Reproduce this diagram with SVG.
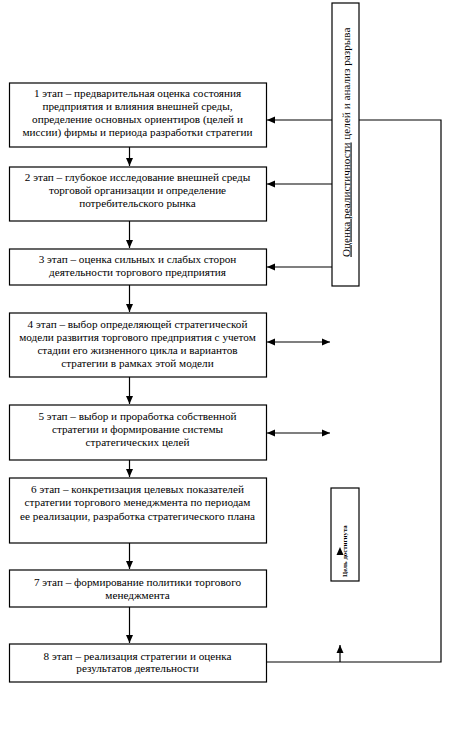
<svg xmlns="http://www.w3.org/2000/svg" width="461" height="755" viewBox="0 0 461 755">
<style>
.box{fill:#fff;stroke:#000;stroke-width:1.2}
.t{font-family:'Liberation Serif','DejaVu Serif',serif;font-size:11.2px;text-anchor:middle;fill:#000}
.c{fill:none;stroke:#000;stroke-width:1.2}
</style>
<defs>
<marker id="ah" viewBox="0 0 8 8" refX="8" refY="4" markerWidth="8" markerHeight="8" markerUnits="userSpaceOnUse" orient="auto-start-reverse">
<path d="M0,0.5 L8,4 L0,7.5 Z" fill="#000"/>
</marker>
</defs>
<rect width="461" height="755" fill="#fff"/>
<g id="connectors">
<line class="c" x1="129.5" y1="147" x2="129.5" y2="166" marker-end="url(#ah)"/>
<line class="c" x1="129.5" y1="221" x2="129.5" y2="248" marker-end="url(#ah)"/>
<line class="c" x1="129.5" y1="285" x2="129.5" y2="312" marker-end="url(#ah)"/>
<line class="c" x1="129.5" y1="377" x2="129.5" y2="404" marker-end="url(#ah)"/>
<line class="c" x1="129.5" y1="460" x2="129.5" y2="477" marker-end="url(#ah)"/>
<line class="c" x1="129.5" y1="543" x2="129.5" y2="569" marker-end="url(#ah)"/>
<line class="c" x1="129.5" y1="607" x2="129.5" y2="643" marker-end="url(#ah)"/>
<polyline class="c" points="266,662 441,662 441,120 267,120" marker-end="url(#ah)"/>
<line class="c" x1="340" y1="662" x2="340" y2="645" marker-end="url(#ah)"/>
<line class="c" x1="332" y1="184" x2="267" y2="184" marker-end="url(#ah)"/>
<line class="c" x1="332" y1="267" x2="267" y2="267" marker-end="url(#ah)"/>
<line class="c" x1="267" y1="342" x2="330" y2="342" marker-start="url(#ah)" marker-end="url(#ah)"/>
<line class="c" x1="267" y1="433" x2="330" y2="433" marker-start="url(#ah)" marker-end="url(#ah)"/>
</g>
<g id="gap">
<rect class="box" x="332" y="3" width="27" height="283"/>
<text class="t" style="font-size:11.2px;text-anchor:start" transform="translate(349.5,257) rotate(-90)"><tspan text-decoration="underline">Оценка реалистичности</tspan> целей и анализ разрыва</text>
</g>
<g id="goal">
<rect class="box" x="331" y="488" width="28" height="93"/>
<text class="t" style="font-size:6.8px;font-weight:bold;text-anchor:start" transform="translate(347,577) rotate(-90)">Цель достигнута</text>
<path d="M336.5,555 L340,547 L343.5,555 Z" fill="#000"/>
</g>
<g id="s1">
<rect class="box" x="9.5" y="83" width="257" height="64"/>
<text class="t" x="137.5" y="97">1 этап – предварительная оценка состояния</text>
<text class="t" x="137.5" y="110">предприятия и влияния внешней среды,</text>
<text class="t" x="137.5" y="123">определение основных ориентиров (целей и</text>
<text class="t" x="137.5" y="136">миссии) фирмы и периода разработки стратегии</text>
</g>
<g id="s2">
<rect class="box" x="9.5" y="167" width="257" height="54"/>
<text class="t" x="137.5" y="181">2 этап – глубокое исследование внешней среды</text>
<text class="t" x="137.5" y="194">торговой организации и определение</text>
<text class="t" x="137.5" y="207">потребительского рынка</text>
</g>
<g id="s3">
<rect class="box" x="9.5" y="249" width="257" height="36"/>
<text class="t" x="137.5" y="262.5">3 этап – оценка сильных и слабых сторон</text>
<text class="t" x="137.5" y="276">деятельности торгового предприятия</text>
</g>
<g id="s4">
<rect class="box" x="9.5" y="313" width="257" height="64"/>
<text class="t" x="137.5" y="327.5">4 этап – выбор определяющей стратегической</text>
<text class="t" x="137.5" y="340.5">модели развития торгового предприятия с учетом</text>
<text class="t" x="137.5" y="353.5">стадии его жизненного цикла и вариантов</text>
<text class="t" x="137.5" y="366.5">стратегии в рамках этой модели</text>
</g>
<g id="s5">
<rect class="box" x="9.5" y="405" width="257" height="55"/>
<text class="t" x="137.5" y="419.5">5 этап – выбор и проработка собственной</text>
<text class="t" x="137.5" y="432.5">стратегии и формирование системы</text>
<text class="t" x="137.5" y="446">стратегических целей</text>
</g>
<g id="s6">
<rect class="box" x="9.5" y="478" width="257" height="65"/>
<text class="t" x="137.5" y="492.5">6 этап – конкретизация целевых показателей</text>
<text class="t" x="137.5" y="506">стратегии торгового менеджмента по периодам</text>
<text class="t" x="137.5" y="519.5">ее реализации, разработка стратегического плана</text>
</g>
<g id="s7">
<rect class="box" x="9.5" y="570" width="257" height="37"/>
<text class="t" x="137.5" y="585.5">7 этап – формирование политики торгового</text>
<text class="t" x="137.5" y="598.5">менеджмента</text>
</g>
<g id="s8">
<rect class="box" x="9.5" y="644" width="257" height="38"/>
<text class="t" x="137.5" y="659.5">8 этап – реализация стратегии и оценка</text>
<text class="t" x="137.5" y="672">результатов деятельности</text>
</g>
</svg>
